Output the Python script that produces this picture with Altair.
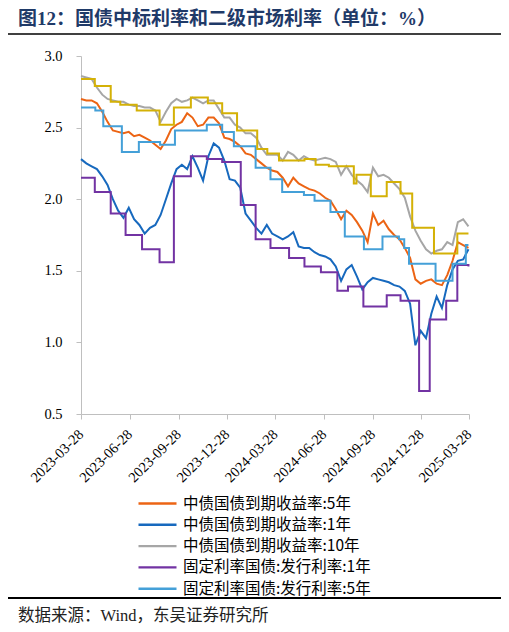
import altair as alt
import pandas as pd

# ---------------- data ----------------
series_names = [
    "中债国债到期收益率:5年",
    "中债国债到期收益率:1年",
    "中债国债到期收益率:10年",
    "固定利率国债:发行利率:1年",
    "固定利率国债:发行利率:5年",
]
series_colors = ["#EC6414", "#1769BE", "#A6A6A6", "#7233A3", "#44A0D8"]
auction10_color = "#D4B106"

# market yields sampled every 10 days from 2023-03-28
grid_dates = pd.date_range("2023-03-28", periods=74, freq="10D").strftime("%Y-%m-%d").tolist()

yield_5y = [2.70, 2.69, 2.69, 2.67, 2.61, 2.54, 2.48, 2.47, 2.46, 2.47,
            2.44, 2.45, 2.43, 2.41, 2.38, 2.35, 2.41, 2.49, 2.52, 2.54,
            2.60, 2.57, 2.51, 2.52, 2.57, 2.57, 2.53, 2.43, 2.42, 2.40,
            2.37, 2.32, 2.31, 2.28, 2.25, 2.22, 2.20, 2.19, 2.15, 2.09,
            2.15, 2.11, 2.09, 2.07, 2.06, 2.04, 2.01, 1.99, 1.93, 1.86,
            1.92, 1.89, 1.84, 1.78, 1.70, 1.90, 1.82, 1.85, 1.79, 1.75,
            1.72, 1.66, 1.59, 1.44, 1.41, 1.43, 1.44, 1.41, 1.40, 1.47,
            1.57, 1.70, 1.68, 1.66]

yield_1y = [2.28, 2.25, 2.23, 2.21, 2.16, 2.10, 2.00, 1.92, 1.87, 1.94,
            1.86, 1.82, 1.76, 1.80, 1.82, 1.89, 2.00, 2.11, 2.21, 2.24,
            2.21, 2.30, 2.22, 2.13, 2.30, 2.39, 2.36, 2.27, 2.14, 2.13,
            2.08, 1.90, 1.85, 1.80, 1.76, 1.82, 1.76, 1.74, 1.72, 1.74,
            1.77, 1.67, 1.66, 1.66, 1.63, 1.61, 1.60, 1.58, 1.53, 1.43,
            1.51, 1.54, 1.46, 1.37, 1.42, 1.45, 1.44, 1.43, 1.42, 1.40,
            1.39, 1.36, 1.27, 0.98, 1.08, 1.03, 1.20, 1.32, 1.24, 1.40,
            1.51, 1.57, 1.58, 1.65]

yield_10y = [2.86, 2.85, 2.84, 2.78, 2.73, 2.70, 2.69, 2.68, 2.68, 2.66,
             2.65, 2.65, 2.64, 2.64, 2.62, 2.54, 2.61, 2.67, 2.70, 2.68,
             2.69, 2.71, 2.69, 2.67, 2.69, 2.69, 2.63, 2.57, 2.57, 2.52,
             2.50, 2.46, 2.46, 2.43, 2.36, 2.31, 2.31, 2.31, 2.27, 2.33,
             2.31, 2.27, 2.30, 2.28, 2.27, 2.28, 2.29, 2.28, 2.26, 2.17,
             2.23, 2.17, 2.13, 2.10, 2.05, 2.22, 2.16, 2.17, 2.15, 2.11,
             2.07, 2.01, 1.88, 1.78, 1.71, 1.65, 1.62, 1.64, 1.65, 1.70,
             1.68, 1.84, 1.86, 1.81]

# auction (issuance) rates: step series
auc1_dates = ["2023-03-28", "2023-04-23", "2023-05-23", "2023-06-20", "2023-07-21",
              "2023-08-23", "2023-09-19", "2023-10-21", "2023-11-20", "2023-12-19",
              "2024-01-23", "2024-02-20", "2024-03-19", "2024-04-23", "2024-05-22",
              "2024-06-22", "2024-07-23", "2024-08-12", "2024-09-10", "2024-10-24",
              "2024-11-19", "2024-12-24", "2025-01-13", "2025-02-13", "2025-03-06",
              "2025-03-27"]
auc1_vals = [2.15, 2.05, 1.90, 1.75, 1.65, 1.56, 2.16, 2.30, 2.28, 2.26,
             1.96, 1.72, 1.66, 1.59, 1.53, 1.49, 1.36, 1.39, 1.25, 1.33,
             1.29, 0.66, 1.16, 1.29, 1.54, 1.53]

auc5_dates = ["2023-03-28", "2023-04-24", "2023-05-09", "2023-06-13", "2023-07-15",
              "2023-08-24", "2023-09-21", "2023-11-20", "2023-12-19", "2024-01-10",
              "2024-02-20", "2024-03-19", "2024-04-10", "2024-05-21", "2024-06-10",
              "2024-07-10", "2024-08-06", "2024-09-11", "2024-10-16", "2024-11-16",
              "2024-11-26", "2024-12-05", "2025-01-24", "2025-02-25", "2025-03-22",
              "2025-03-27"]
auc5_vals = [2.64, 2.62, 2.51, 2.33, 2.40, 2.38, 2.48, 2.52, 2.47, 2.37,
             2.22, 2.14, 2.05, 2.03, 1.99, 1.91, 1.74, 1.65, 1.74, 1.72,
             1.66, 1.55, 1.43, 1.55, 1.68, 1.68]

auc10_dates = ["2023-03-28", "2023-04-23", "2023-05-23", "2023-06-10", "2023-07-11",
               "2023-08-23", "2023-09-19", "2023-10-21", "2023-11-22", "2023-12-19",
               "2024-01-16", "2024-02-23", "2024-03-13", "2024-04-04", "2024-05-22",
               "2024-06-12", "2024-07-07", "2024-08-23", "2024-08-28", "2024-09-24",
               "2024-10-24", "2024-11-19", "2024-12-11", "2025-01-21", "2025-03-06",
               "2025-03-27"]
auc10_vals = [2.84, 2.79, 2.68, 2.66, 2.62, 2.52, 2.64, 2.71, 2.67, 2.60,
              2.48, 2.35, 2.32, 2.27, 2.28, 2.24, 2.23, 2.11, 2.17, 2.02,
              2.12, 2.04, 1.80, 1.62, 1.76, 1.76]

tick_dates = ["2023-03-28", "2023-06-28", "2023-09-28", "2023-12-28", "2024-03-28",
              "2024-06-28", "2024-09-28", "2024-12-28", "2025-03-28"]
y_ticks = [0.5, 1.0, 1.5, 2.0, 2.5, 3.0]

title_text = "图12：国债中标利率和二级市场利率（单位：%）"
source_text = "数据来源：Wind，东吴证券研究所"

# ---------------- tables ----------------
market = pd.concat([
    pd.DataFrame({"date": grid_dates, "value": yield_5y, "series": series_names[0]}),
    pd.DataFrame({"date": grid_dates, "value": yield_1y, "series": series_names[1]}),
    pd.DataFrame({"date": grid_dates, "value": yield_10y, "series": series_names[2]}),
], ignore_index=True)

auction = pd.concat([
    pd.DataFrame({"date": auc1_dates, "value": auc1_vals, "series": series_names[3]}),
    pd.DataFrame({"date": auc5_dates, "value": auc5_vals, "series": series_names[4]}),
], ignore_index=True)

auction10 = pd.DataFrame({"date": auc10_dates, "value": auc10_vals})


def dt(s):
    y, m, d = (int(p) for p in s.split("-"))
    return alt.DateTime(year=y, month=m, date=d, utc=True)


serif = "Liberation Serif, Times New Roman, Noto Sans CJK SC"
cjk_sans = "Noto Sans CJK SC"

x_enc = alt.X(
    "date:T",
    scale=alt.Scale(type="utc", domain=[dt("2023-03-28"), dt("2025-03-28")]),
    axis=alt.Axis(
        values=[dt(d) for d in tick_dates],
        labelExpr="utcFormat(datum.value, '%Y-%m-%d')",
        labelAngle=-45, labelAlign="right", labelBaseline="middle",
        labelFont=serif, labelFontSize=14.5, labelColor="#000000",
        labelPadding=13, labelFlush=False, labelOverlap=False,
        tickSize=5, tickColor="#BFBFBF", domainColor="#BFBFBF",
        domainWidth=1, grid=False, title=None,
    ),
)
y_enc = alt.Y(
    "value:Q",
    scale=alt.Scale(domain=[0.5, 3.0], nice=False, zero=False),
    axis=alt.Axis(
        values=y_ticks, format=".1f",
        labelFont=serif, labelFontSize=14.5, labelColor="#000000",
        labelPadding=14, labelFlush=False,
        tickSize=5, tickColor="#BFBFBF", domainColor="#BFBFBF",
        domainWidth=1, grid=False, title=None,
    ),
)

color_scale = alt.Scale(domain=series_names, range=series_colors)
legend = alt.Legend(
    orient="none", legendX=56, legendY=439.5, title=None,
    symbolType="stroke", symbolSize=1444, symbolStrokeWidth=2.4,
    labelFont=cjk_sans, labelFontSize=15.5, labelColor="#000000",
    labelOffset=5, clipHeight=16, rowPadding=4.3, padding=0, symbolOffset=0,
    labelLimit=400,
)

market_lines = alt.Chart(market).mark_line(strokeWidth=2).encode(
    x=x_enc, y=y_enc,
    color=alt.Color("series:N", scale=color_scale, legend=legend),
)
auction_lines = alt.Chart(auction).mark_line(strokeWidth=2, interpolate="step-after").encode(
    x=x_enc, y=y_enc,
    color=alt.Color("series:N", scale=color_scale, legend=legend),
)
auction10_line = alt.Chart(auction10).mark_line(
    strokeWidth=2, interpolate="step-after", color=auction10_color
).encode(x=x_enc, y=y_enc)

# decorations (title, rules, source)
title_mark = alt.Chart(pd.DataFrame({"t": [title_text]})).mark_text(
    align="left", baseline="alphabetic", font=serif, fontSize=19,
    fontWeight="bold", color="#1F3A68",
).encode(x=alt.value(-63), y=alt.value(-31.5), text="t:N")

top_rule = alt.Chart(pd.DataFrame({"a": [0]})).mark_rule(
    color="#000000", strokeWidth=1.6
).encode(x=alt.value(-76), x2=alt.value(422), y=alt.value(-22))

bottom_rule = alt.Chart(pd.DataFrame({"a": [0]})).mark_rule(
    color="#000000", strokeWidth=1.8
).encode(x=alt.value(-76), x2=alt.value(422), y=alt.value(542))

source_mark = alt.Chart(pd.DataFrame({"t": [source_text]})).mark_text(
    align="left", baseline="alphabetic", font=serif, fontSize=16.5, color="#222222",
).encode(x=alt.value(-63), y=alt.value(565), text="t:N")

chart = alt.layer(
    market_lines, auction_lines, auction10_line,
    title_mark, top_rule, bottom_rule, source_mark,
).properties(
    width=388, height=358,
    autosize=alt.AutoSizeParams(type="none"),
    padding={"left": 73, "top": 48, "right": 32, "bottom": 210},
).configure_view(stroke=None)

chart.save("out.html", embed_options={"renderer": "svg", "actions": False})
